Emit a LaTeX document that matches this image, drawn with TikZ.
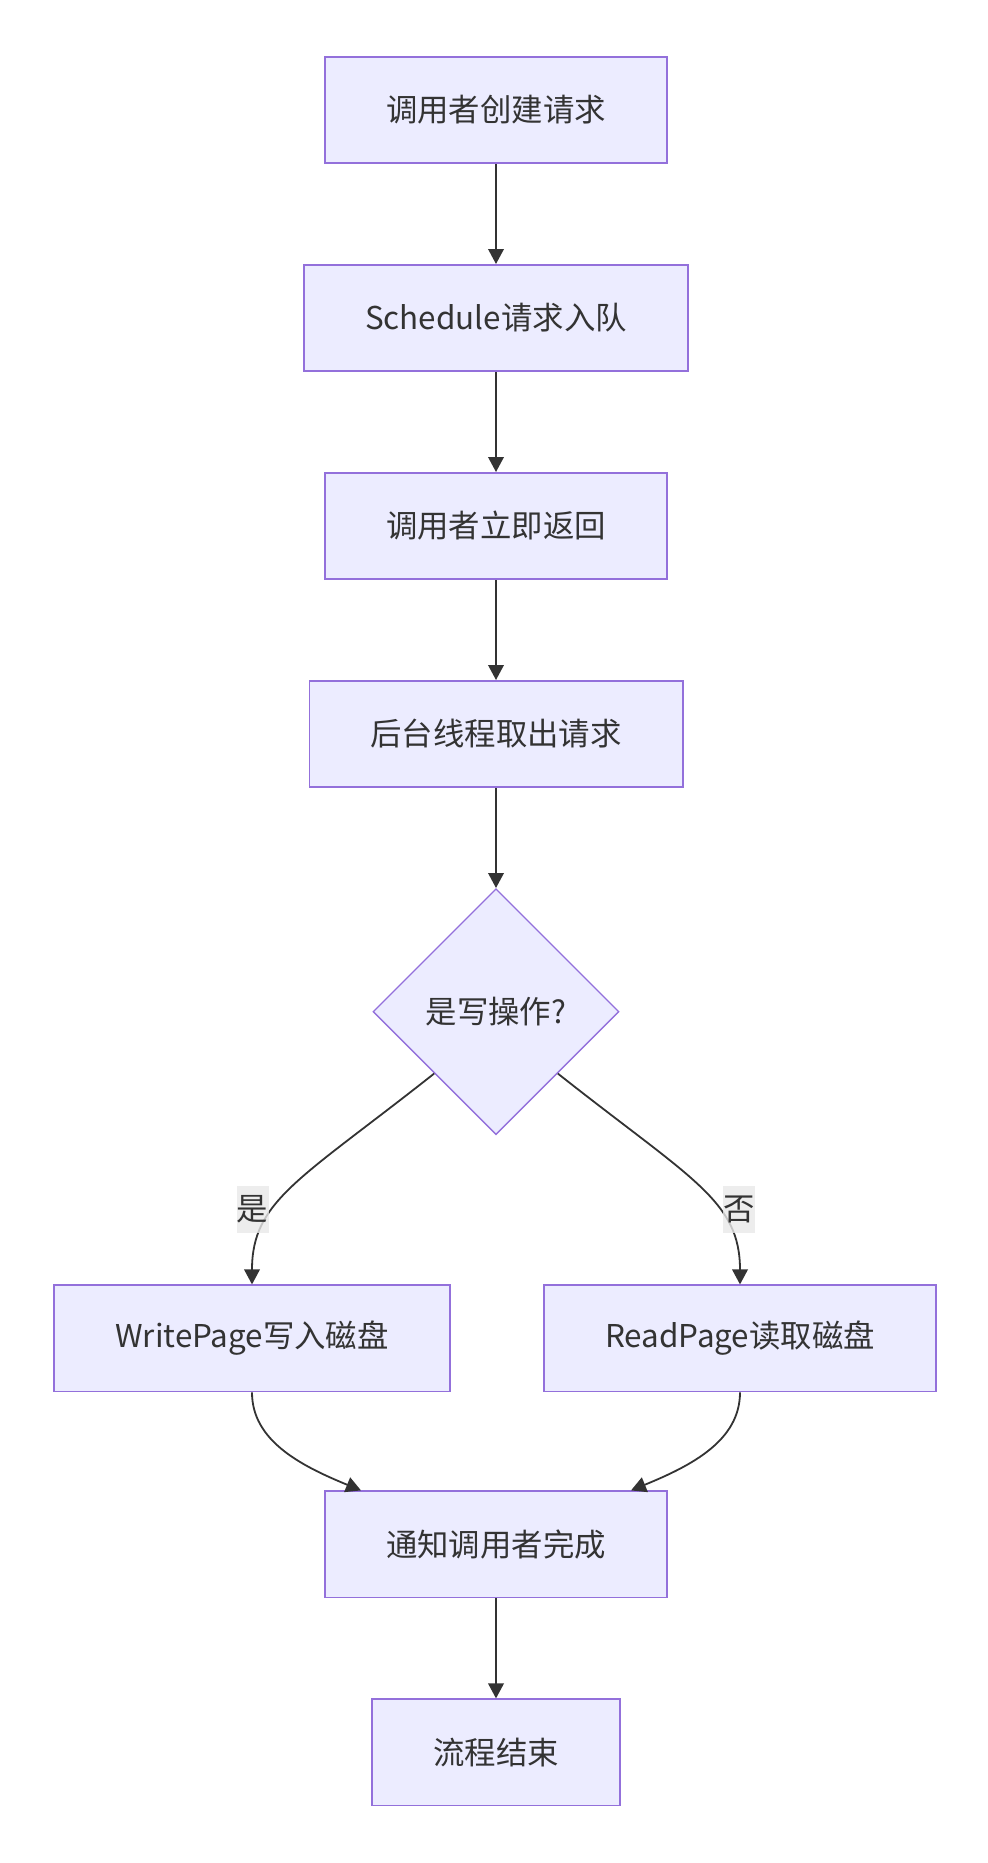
\documentclass[tikz,border=0pt]{standalone}
\usepackage{fontspec}
\setmainfont{Noto Sans CJK SC}
\usetikzlibrary{positioning, shapes.geometric, arrows.meta}
\definecolor{mmfill}{HTML}{ECECFF}
\definecolor{mmline}{HTML}{9370DB}
\definecolor{mmtext}{HTML}{333333}
\definecolor{mmlabel}{HTML}{E8E8E8}

\begin{document}
\begin{tikzpicture}[
      node distance=50pt and 50pt,
      font=\fontsize{15.7pt}{19pt}\selectfont,
      >={Triangle[length=7.5pt, width=7.8pt]},
      block/.style={rectangle, draw=mmline, line width=0.9pt, fill=mmfill, text=mmtext, inner xsep=30.5pt, minimum height=53.1pt},
      decision/.style={diamond, draw=mmline, line width=0.7pt, fill=mmfill, text=mmtext, inner sep=0pt, minimum width=123pt, minimum height=123pt},
      tag/.style={fill=mmlabel, fill opacity=0.8, text opacity=1, text=mmtext, inner sep=0pt, minimum width=16pt, minimum height=23.5pt},
      arrow/.style={->, line width=0.9pt, draw=mmtext}
  ]
  \useasboundingbox (0,0) rectangle (494pt,-931.5pt);

  % Nodes
  \node[block] (create) at (248pt,-55pt) {调用者创建请求};
  \node[block, below=of create] (enqueue) {Schedule请求入队};
  \node[block, below=of enqueue] (back) {调用者立即返回};
  \node[block, below=of back] (fetch) {后台线程取出请求};
  \node[decision, below=of fetch] (iswrite) {是写操作?};
  \node[block, below=74.5pt of iswrite, xshift=-122pt] (write) {WritePage写入磁盘};
  \node[block, below=74.5pt of iswrite, xshift=122pt] (read) {ReadPage读取磁盘};
  \coordinate (join) at (write.south -| iswrite);
  \node[block, below=49pt of join] (notify) {通知调用者完成};
  \node[block, below=of notify] (finish) {流程结束};

  % Arrows
  \draw[arrow] (create) -- (enqueue);
  \draw[arrow] (enqueue) -- (back);
  \draw[arrow] (back) -- (fetch);
  \draw[arrow] (fetch) -- (iswrite);
  \draw[arrow] (iswrite.south west) .. controls +(-67pt,-53pt) and +(0,42pt) .. (write.north)
    node[tag, pos=0.63, xshift=-10.5pt] {是};
  \draw[arrow] (iswrite.south east) .. controls +(67pt,-53pt) and +(0,42pt) .. (read.north)
    node[tag, pos=0.63, xshift=10.5pt] {否};
  \draw[arrow] (write.south) .. controls +(0,-24pt) and +(-30.5pt,12.5pt) .. ([xshift=-67.5pt]notify.north);
  \draw[arrow] (read.south) .. controls +(0,-24pt) and +(30.5pt,12.5pt) .. ([xshift=67.5pt]notify.north);
  \draw[arrow] (notify) -- (finish);

\end{tikzpicture}
\end{document}
